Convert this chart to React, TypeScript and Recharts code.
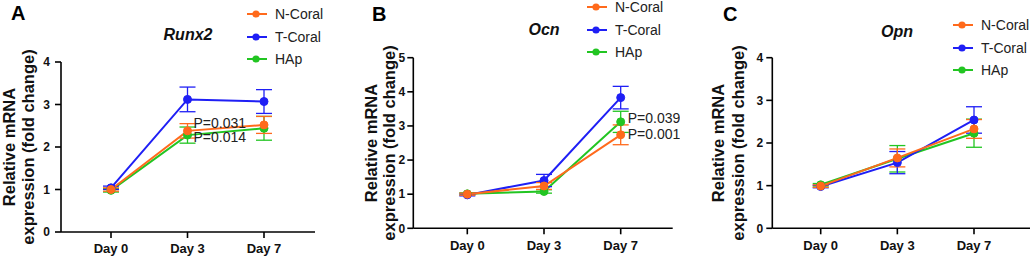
import { LineChart, Line, XAxis, YAxis, ErrorBar, Legend, LabelList } from 'recharts';

const days = ['Day 0', 'Day 3', 'Day 7'];

const runx2N = [1.0, 2.38, 2.52];
const runx2NErr = [0.04, 0.17, 0.2];
const runx2T = [1.04, 3.12, 3.07];
const runx2TErr = [0.04, 0.29, 0.28];
const runx2H = [0.98, 2.28, 2.44];
const runx2HErr = [0.04, 0.19, 0.28];
const runx2Notes = [
  { series: 'n', day: 'Day 3', text: 'P=0.031' },
  { series: 'h', day: 'Day 3', text: 'P=0.014' },
];

const ocnN = [1.0, 1.24, 2.74];
const ocnNErr = [0.03, 0.1, 0.29];
const ocnT = [0.98, 1.4, 3.83];
const ocnTErr = [0.03, 0.18, 0.33];
const ocnH = [1.01, 1.08, 3.12];
const ocnHErr = [0.03, 0.05, 0.31];
const ocnNotes = [
  { series: 'h', day: 'Day 7', text: 'P=0.039' },
  { series: 'n', day: 'Day 7', text: 'P=0.001' },
];

const opnN = [0.99, 1.65, 2.33];
const opnNErr = [0.03, 0.21, 0.22];
const opnT = [0.98, 1.54, 2.54];
const opnTErr = [0.03, 0.26, 0.31];
const opnH = [1.02, 1.63, 2.23];
const opnHErr = [0.03, 0.31, 0.33];
const opnNotes: { series: string; day: string; text: string }[] = [];

const ticks4 = [0, 1, 2, 3, 4];
const ticks5 = [0, 1, 2, 3, 4, 5];

const seriesNames = { n: 'N-Coral', t: 'T-Coral', h: 'HAp' };
const colors = { n: '#FF6A1C', t: '#1F1FF5', h: '#22C522' };

const FONT = '"Liberation Sans", Arial, Helvetica, sans-serif';

function buildRows(n, nErr, t, tErr, h, hErr, notes) {
  const note = (s, d) => notes.find((x) => x.series === s && x.day === d)?.text ?? '';
  return days.map((day, i) => ({
    day,
    n: n[i], nErr: nErr[i], nNote: note('n', day),
    t: t[i], tErr: tErr[i], tNote: note('t', day),
    h: h[i], hErr: hErr[i], hNote: note('h', day),
  }));
}

const panels = [
  {
    letter: 'A', title: 'Runx2', left: 0, width: 340,
    plotLeft: 61, plotRight: 315, plotTop: 62, plotBottom: 232, padL: 50, padR: 51,
    yMax: 4, ticks: ticks4, yTickGap: 5, yLabelX: [9.3, 27.5], titleX: 188, titleY: 35,
    letterX: 11, letterY: 21, legendTop: 2.75, legendLeft: 245,
    noteOffset: { n: [6, -8], h: [6, 2], t: [6, 0] },
    rows: buildRows(runx2N, runx2NErr, runx2T, runx2TErr, runx2H, runx2HErr, runx2Notes),
  },
  {
    letter: 'B', title: 'Ocn', left: 340, width: 340,
    plotLeft: 73.3, plotRight: 332.7, plotTop: 57.7, plotBottom: 228.3, padL: 54, padR: 52,
    yMax: 5, ticks: ticks5, yTickGap: 2, yLabelX: [31.3, 49.3], titleX: 204, titleY: 30,
    letterX: 32, letterY: 22, legendTop: -4.25, legendLeft: 245,
    noteOffset: { n: [7, -1], h: [7, -4], t: [7, 0] },
    rows: buildRows(ocnN, ocnNErr, ocnT, ocnTErr, ocnH, ocnHErr, ocnNotes),
  },
  {
    letter: 'C', title: 'Opn', left: 690, width: 341,
    plotLeft: 82.3, plotRight: 340, plotTop: 57.7, plotBottom: 228.3, padL: 48.4, padR: 56,
    yMax: 4, ticks: ticks4, yTickGap: 3, yLabelX: [28.3, 47.5], titleX: 207, titleY: 32,
    letterX: 33, letterY: 22, legendTop: 13.75, legendLeft: 261,
    noteOffset: { n: [6, 0], h: [6, 0], t: [6, 0] },
    rows: buildRows(opnN, opnNErr, opnT, opnTErr, opnH, opnHErr, opnNotes),
  },
];

function LegendBox() {
  return (
    <div style={{ fontFamily: FONT, fontSize: 14, color: '#222' }}>
      {['n', 't', 'h'].map((k) => (
        <div key={k} style={{ height: 22.5, display: 'flex', alignItems: 'center' }}>
          <svg width={24} height={10} style={{ display: 'block' }}>
            <line x1={2} y1={5} x2={22} y2={5} stroke={colors[k]} strokeWidth={2} />
            <circle cx={11} cy={5} r={3.6} fill={colors[k]} />
          </svg>
          <span style={{ marginLeft: 6 }}>{seriesNames[k]}</span>
        </div>
      ))}
    </div>
  );
}

function Panel({ p }) {
  const midY = (p.plotTop + p.plotBottom) / 2;
  const yLabel = () => (
    <g>
      {['Relative mRNA', 'expression (fold change)'].map((s, i) => (
        <text
          key={s}
          x={p.yLabelX[i]}
          y={midY}
          transform={`rotate(-90, ${p.yLabelX[i]}, ${midY})`}
          textAnchor="middle"
          dominantBaseline="central"
          fontFamily={FONT}
          fontWeight="bold"
          fontSize={16.5}
          fill="#111"
        >
          {s}
        </text>
      ))}
    </g>
  );
  const noteLabel = (key) => (props) => {
    const { x, y, index } = props;
    const text = p.rows[index]?.[key + 'Note'];
    if (!text) return null;
    const [dx, dy] = p.noteOffset[key];
    return (
      <text
        x={x + dx}
        y={y + dy}
        dominantBaseline="central"
        fontFamily={FONT}
        fontSize={14}
        fill="#222"
      >
        {text}
      </text>
    );
  };
  return (
    <div style={{ position: 'absolute', left: p.left, top: 0, width: p.width, height: 257 }}>
      <div
        style={{
          position: 'absolute', left: p.letterX, top: p.letterY - 19, fontFamily: FONT,
          fontWeight: 'bold', fontSize: 20, lineHeight: '22px', color: '#000',
        }}
      >
        {p.letter}
      </div>
      <div
        style={{
          position: 'absolute', left: p.titleX, top: p.titleY - 10, transform: 'translateX(-50%)',
          fontFamily: FONT, fontWeight: 'bold', fontStyle: 'italic', fontSize: 16,
          lineHeight: '20px', color: '#111', zIndex: 2,
        }}
      >
        {p.title}
      </div>
      <LineChart
        width={p.width}
        height={257}
        data={p.rows}
        margin={{ top: p.plotTop, right: p.width - p.plotRight, left: 0, bottom: 0 }}
        style={{ overflow: 'visible' }}
      >
        <XAxis
          dataKey="day"
          height={257 - p.plotBottom}
          padding={{ left: p.padL, right: p.padR }}
          tickSize={6}
          tickMargin={6}
          axisLine={{ stroke: '#000', strokeWidth: 1.6 }}
          tickLine={{ stroke: '#000', strokeWidth: 1.6 }}
          tick={{ fill: '#111', fontSize: 13, fontWeight: 'bold', fontFamily: FONT }}
          interval={0}
        />
        <YAxis
          width={p.plotLeft}
          domain={[0, p.yMax]}
          ticks={p.ticks}
          interval={0}
          tickSize={6}
          tickMargin={p.yTickGap}
          axisLine={{ stroke: '#000', strokeWidth: 1.6 }}
          tickLine={{ stroke: '#000', strokeWidth: 1.6 }}
          tick={{ fill: '#111', fontSize: 12, fontWeight: 'bold', fontFamily: FONT }}
          label={{ content: yLabel }}
        />
        <Legend
          layout="vertical"
          align="center"
          verticalAlign="middle"
          content={() => <LegendBox />}
          wrapperStyle={{ left: p.legendLeft, top: p.legendTop, width: 100, height: 70 }}
        />
        {['h', 't', 'n'].map((k) => (
          <Line
            key={k}
            dataKey={k}
            name={seriesNames[k]}
            stroke={colors[k]}
            strokeWidth={2}
            dot={{ r: 4, fill: colors[k], stroke: colors[k], strokeWidth: 1 }}
            activeDot={false}
            isAnimationActive={false}
          >
            <ErrorBar dataKey={k + 'Err'} direction="y" width={8} stroke={colors[k]} strokeWidth={1.3} />
            <LabelList dataKey={k} content={noteLabel(k)} />
          </Line>
        ))}
      </LineChart>
    </div>
  );
}

export default function App() {
  return (
    <div
      style={{
        position: 'absolute', left: 0, top: 0, width: 1031, height: 257,
        background: '#fff', overflow: 'hidden',
      }}
    >
      {panels.map((p) => (
        <Panel key={p.letter} p={p} />
      ))}
    </div>
  );
}
